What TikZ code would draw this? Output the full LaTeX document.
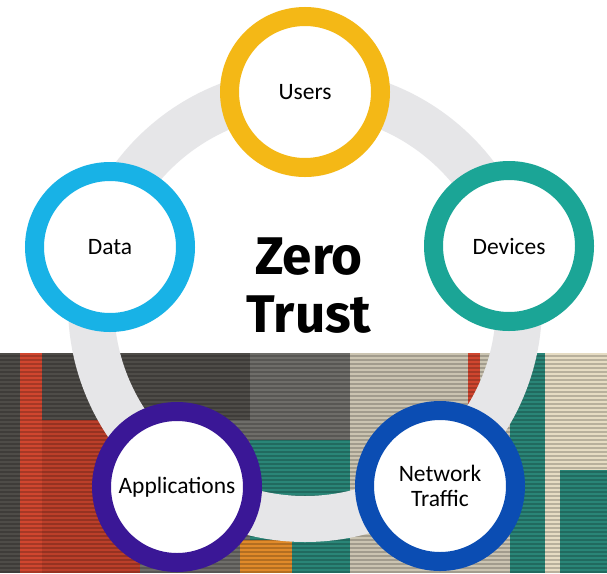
\documentclass[tikz,border=0pt]{standalone}
\usepackage{fontspec}
\setmainfont{Carlito}
\newfontfamily\titlefont{Fira Sans}
\usetikzlibrary{calc}

\definecolor{ringgray}{HTML}{E6E6E8}
\definecolor{usersc}{HTML}{F4B816}
\definecolor{devicesc}{HTML}{1BA596}
\definecolor{datac}{HTML}{18B2E6}
\definecolor{appsc}{HTML}{3A1796}
\definecolor{netc}{HTML}{0B4DB3}
\definecolor{texdark}{HTML}{4E4C48}
\definecolor{texmid}{HTML}{6E6D69}
\definecolor{texred}{HTML}{D0462F}
\definecolor{texteal}{HTML}{2A8577}
\definecolor{texorange}{HTML}{E08A2A}
\definecolor{texlight}{HTML}{CBC4B1}
\definecolor{texcream}{HTML}{E6DCC3}

\begin{document}
\begin{tikzpicture}[x=1pt,y=-1pt,
    pillar/.style={circle,draw=#1,line width=19pt,fill=white,minimum size=151pt,
      inner sep=0pt,align=center,font=\fontsize{23.5}{25}\selectfont}]
          \useasboundingbox (0,0) rectangle (607,573);
          \fill[white] (0,0) rectangle (607,573);
          % textured strip at the bottom
          \fill[texmid] (0,353) rectangle (607,573);
          \fill[texdark] (0,353) rectangle (20,573);
          \fill[texred] (20,353) rectangle (42,573);
          \fill[texdark] (42,353) rectangle (250,420);
          \fill[texred!90!black] (42,420) rectangle (140,573);
          \fill[texmid] (250,353) rectangle (350,440);
          \fill[texteal] (250,440) rectangle (360,573);
          \fill[texorange] (240,540) rectangle (292,573);
          \fill[texlight] (350,353) rectangle (510,573);
          \fill[texred] (468,353) rectangle (480,440);
          \fill[texteal] (510,353) rectangle (545,573);
          \fill[texcream] (545,353) rectangle (607,573);
          \fill[texteal] (560,470) rectangle (607,573);
          \foreach \y in {356,360,...,572}
            \draw[black,opacity=0.2,line width=1.5pt] (0,\y)--(607,\y);
          % the big ring
          \coordinate (centre) at (305,305);
          \draw[ringgray,line width=46pt] (centre) circle (214);
          \node[font=\titlefont\bfseries\fontsize{53}{58}\selectfont,align=center]
            (zt) at (309,286) {Zero\\Trust};
          \node[pillar=usersc] (users) at (305,92) {Users};
          \node[pillar=devicesc] (devices) at (509,246) {Devices};
          \node[pillar=datac] (data) at (110,247) {Data};
          \node[pillar=appsc] (apps) at (177,487) {Applications};
          \node[pillar=netc] (net) at (440,486) {Network\\Traffic};
        \end{tikzpicture}
\end{document}
